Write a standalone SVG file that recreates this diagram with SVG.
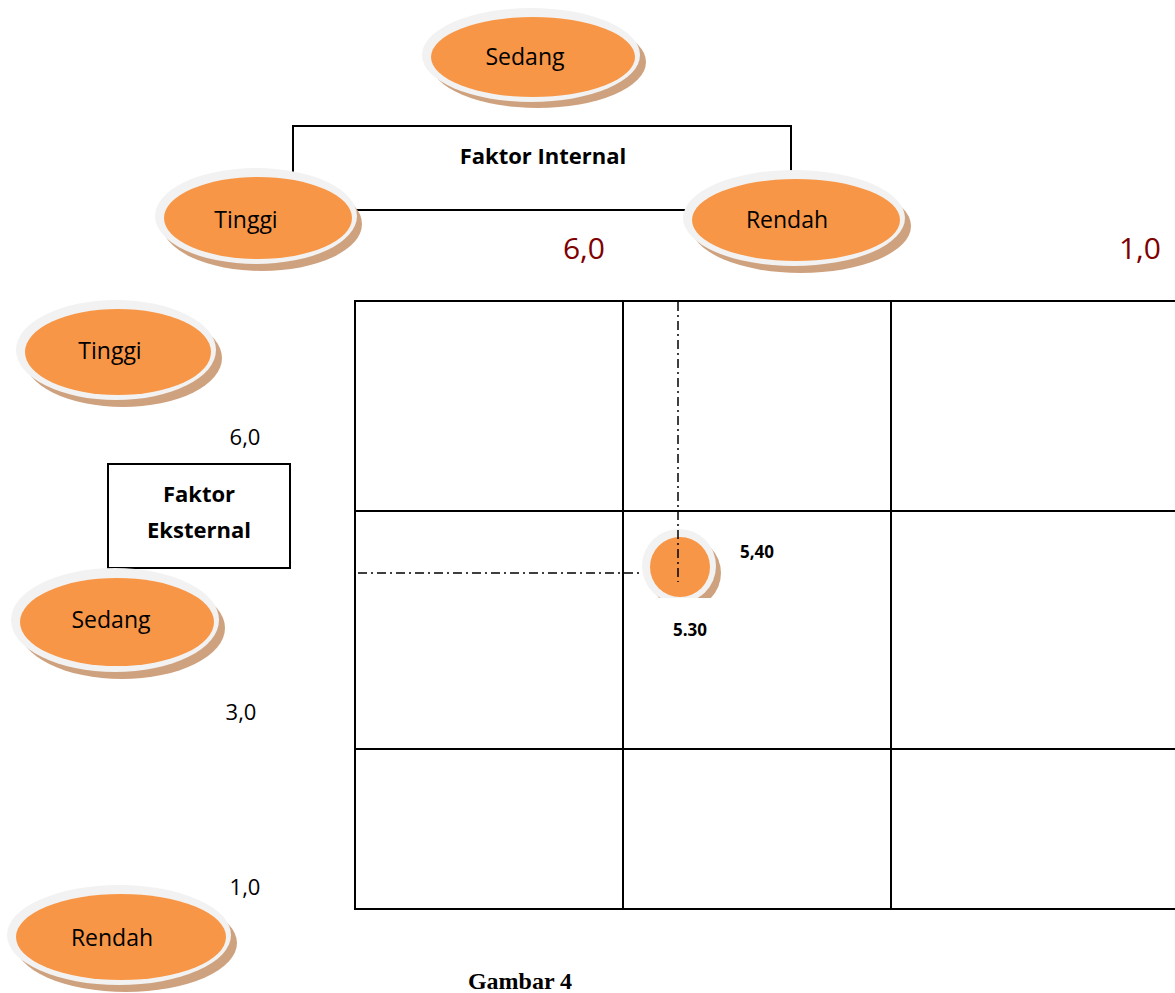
<svg xmlns="http://www.w3.org/2000/svg" width="1175" height="993" viewBox="0 0 1175 993">
<style>
.sh{fill:#cfa27f}
.ring{fill:#f2f2f2}
.core{fill:#f79646}
.lbl{font-family:"Open Sans","Noto Sans",sans-serif;font-size:23px;fill:#000;text-anchor:middle;dominant-baseline:central}
.num{font-family:"Open Sans","Noto Sans",sans-serif;font-size:22px;fill:#000;text-anchor:middle}
.red{font-family:"Open Sans","Noto Sans",sans-serif;font-size:30px;fill:#7f0000;text-anchor:middle}
.bold{font-family:"Open Sans","Noto Sans",sans-serif;font-weight:bold;font-size:22px;fill:#000;text-anchor:middle}
.sm{font-family:"Open Sans","Noto Sans",sans-serif;font-weight:bold;font-size:17px;fill:#000;text-anchor:middle}
.ln{stroke:#000;stroke-width:2;fill:none}
.dd{stroke:#000;stroke-width:1.5;fill:none;stroke-dasharray:9 4 2 4}
</style>
<defs>
<clipPath id="cclip"><rect x="600" y="500" width="160" height="98"/></clipPath>
</defs>
<rect width="1175" height="993" fill="#fff"/>

<g id="faktor-internal">
<rect x="293" y="126" width="498" height="84" class="ln"/>
<text x="543" y="164" class="bold">Faktor Internal</text>
</g>

<g id="axis-labels">
<text x="584" y="259" class="red">6,0</text>
<text x="1140" y="259" class="red">1,0</text>
<text x="245" y="445" class="num">6,0</text>
<text x="241" y="720" class="num">3,0</text>
<text x="245" y="895" class="num">1,0</text>
</g>

<g id="grid">
<line x1="355" y1="301" x2="1175" y2="301" class="ln"/>
<line x1="355" y1="511" x2="1175" y2="511" class="ln"/>
<line x1="355" y1="749" x2="1175" y2="749" class="ln"/>
<line x1="355" y1="909" x2="1175" y2="909" class="ln"/>
<line x1="355" y1="300" x2="355" y2="910" class="ln"/>
<line x1="623" y1="300" x2="623" y2="910" class="ln"/>
<line x1="891" y1="300" x2="891" y2="910" class="ln"/>
</g>

<g id="faktor-eksternal">
<rect x="108" y="464" width="182" height="104" class="ln" stroke-width="1.5"/>
<text x="199" y="502" class="bold">Faktor</text>
<text x="199" y="538" class="bold">Eksternal</text>
</g>

<g id="node-sedang-top">
<ellipse cx="538" cy="62" rx="108" ry="46" class="sh"/>
<ellipse cx="531" cy="55" rx="109" ry="47" class="ring"/>
<ellipse cx="533" cy="57" rx="102" ry="40" class="core"/>
<text x="525" y="56" class="lbl">Sedang</text>
</g>

<g id="node-tinggi-top">
<ellipse cx="262" cy="224" rx="100" ry="47" class="sh"/>
<ellipse cx="256" cy="216" rx="101" ry="48" class="ring"/>
<ellipse cx="258" cy="218" rx="94" ry="41" class="core"/>
<text x="246" y="219" class="lbl">Tinggi</text>
</g>

<g id="node-rendah-top">
<ellipse cx="801" cy="226" rx="110" ry="47" class="sh"/>
<ellipse cx="794" cy="218" rx="111" ry="48" class="ring"/>
<ellipse cx="796" cy="220" rx="104" ry="41" class="core"/>
<text x="787" y="219" class="lbl">Rendah</text>
</g>

<g id="node-tinggi-left">
<ellipse cx="123" cy="358" rx="99" ry="49" class="sh"/>
<ellipse cx="116" cy="350" rx="100" ry="50" class="ring"/>
<ellipse cx="118" cy="352" rx="93" ry="43" class="core"/>
<text x="110" y="350" class="lbl">Tinggi</text>
</g>

<g id="node-sedang-left">
<ellipse cx="122" cy="628" rx="103" ry="51" class="sh"/>
<ellipse cx="115" cy="620" rx="104" ry="52" class="ring"/>
<ellipse cx="117" cy="622" rx="97" ry="44" class="core"/>
<text x="111" y="619" class="lbl">Sedang</text>
</g>

<g id="node-rendah-left">
<ellipse cx="126" cy="943" rx="111" ry="49" class="sh"/>
<ellipse cx="119" cy="935" rx="112" ry="50" class="ring"/>
<ellipse cx="121" cy="937" rx="105" ry="43" class="core"/>
<text x="112" y="937" class="lbl">Rendah</text>
</g>

<g id="connectors">
<line x1="678" y1="302" x2="678" y2="582" class="dd"/>
<line x1="358" y1="573" x2="640" y2="573" class="dd"/>
</g>

<g id="node-point">
<g clip-path="url(#cclip)">
<circle cx="685" cy="573" r="36" class="sh"/>
<circle cx="679" cy="566" r="37" class="ring"/>
<circle cx="680" cy="567" r="30" class="core"/>
</g>
<line x1="678" y1="530" x2="678" y2="582" class="dd"/>
<text x="757" y="558" class="sm">5,40</text>
<text x="690" y="636" class="sm">5.30</text>
</g>

<g id="caption">
<text x="520" y="989" font-family="Liberation Serif,serif" font-weight="bold" font-size="24" text-anchor="middle">Gambar 4</text>
</g>
</svg>
